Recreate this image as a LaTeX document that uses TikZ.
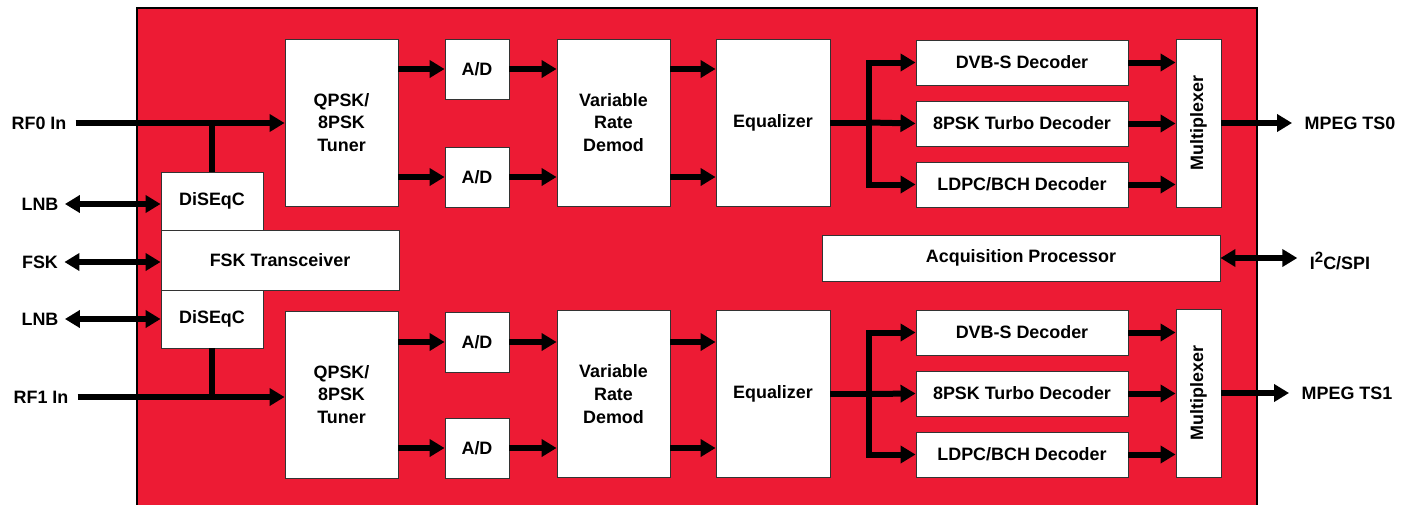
\documentclass[tikz,border=0pt]{standalone}
\usepackage{fontspec}
\setmainfont{Liberation Sans}
\usetikzlibrary{arrows.meta, positioning, calc}
\definecolor{chipred}{HTML}{ED1B34}
\definecolor{boxline}{HTML}{333333}

\begin{document}
\begin{tikzpicture}[
  x=0.02cm, y=-0.02cm,
  every node/.style={font=\fontsize{10.2}{13}\selectfont\bfseries, align=center},
  blk/.style 2 args={draw=boxline, line width=0.5pt, fill=white, inner sep=0pt, minimum width=#1*0.02cm, minimum height=#2*0.02cm},
  pin/.style={inner sep=3.5pt},
  sig/.style={line width=0.12cm, -{Triangle[length=0.3cm, width=0.34cm]}},
  bidir/.style={line width=0.12cm, {Triangle[length=0.3cm, width=0.34cm]}-{Triangle[length=0.3cm, width=0.34cm]}},
  wire/.style={line width=0.12cm},
  bus/.style={line width=0.12cm, line cap=rect}
]
\useasboundingbox (0,0) rectangle (1406,504);
\fill[chipred] (137,8) rectangle (1257,520);
\draw[line width=0.8pt] (137,520) -- (137,8) -- (1257,8) -- (1257,520);

% channel 0
\node[blk={113}{167}] (tun0) at (341.5,122.5) {QPSK/\\8PSK\\Tuner};
\node[blk={64}{60}] (ad0a) at (477,69) {A/D};
\node[blk={64}{60}] (ad0b) at (477,177) {A/D};
\node[blk={113}{167}] (vrd0) at (613.5,122.5) {Variable\\Rate\\Demod};
\node[blk={114}{167}] (eq0) at (773,122.5) {Equalizer};
\node[blk={212}{45}] (dvb0) at (1022,62.5) {DVB-S Decoder};
\node[blk={212}{45}] (tur0) at (1022,123.5) {8PSK Turbo Decoder};
\node[blk={212}{45}] (ldp0) at (1022,184.5) {LDPC/BCH Decoder};
\node[blk={45}{168}] (mux0) at (1198.5,123) {\rotatebox{90}{Multiplexer}};
\coordinate (b0) at (869,122.5);

% channel 1
\node[blk={113}{167}] (tun1) at (341.5,394.5) {QPSK/\\8PSK\\Tuner};
\node[blk={64}{60}] (ad1a) at (477,342) {A/D};
\node[blk={64}{60}] (ad1b) at (477,448) {A/D};
\node[blk={113}{167}] (vrd1) at (613.5,394) {Variable\\Rate\\Demod};
\node[blk={114}{167}] (eq1) at (773,394) {Equalizer};
\node[blk={212}{45}] (dvb1) at (1022,332.5) {DVB-S Decoder};
\node[blk={212}{45}] (tur1) at (1022,393.5) {8PSK Turbo Decoder};
\node[blk={212}{45}] (ldp1) at (1022,454.5) {LDPC/BCH Decoder};
\node[blk={45}{168}] (mux1) at (1198.5,393) {\rotatebox{90}{Multiplexer}};
\coordinate (b1) at (869,394);

% control blocks
\node[blk={102}{58}] (dis0) at (212,201) {DiSEqC};
\node[blk={102}{58}] (dis1) at (212,319) {DiSEqC};
\node[blk={238}{60}] (fsk) at (280,260) {FSK Transceiver};
\node[blk={398}{46}] (acq) at (1021,258) {Acquisition Processor};

% pins
\node[pin, inner sep=5pt] (rf0) at (39,123) {RF0 In};
\node[pin, inner sep=5pt] (rf1) at (41,397) {RF1 In};
\node[pin] (lnb0) at (40,204) {LNB};
\node[pin] (fskp) at (40,262) {FSK};
\node[pin] (lnb1) at (40,319) {LNB};
\node[pin, inner sep=7pt] (ts0) at (1350,123) {MPEG TS0};
\node[pin, inner sep=7pt] (ts1) at (1347,393) {MPEG TS1};
\node[pin, inner sep=7pt] (i2c) at (1340,261) {I\raisebox{0.75ex}{\fontsize{8.5}{9}\selectfont 2}C/SPI};

\draw[sig] (rf0.east) -- (tun0.west |- rf0);
\draw[sig] (rf1.east) -- (tun1.west |- rf1);
\draw[wire] (dis0.north) -- (dis0.north |- rf0);
\draw[wire] (dis1.south) -- (dis1.south |- rf1);
\draw[bidir] (lnb0.east) -- (lnb0 -| dis0.west);
\draw[bidir] (fskp.east) -- (fskp -| fsk.west);
\draw[bidir] (lnb1.east) -- (lnb1 -| dis1.west);

\draw[sig] (tun0.east |- ad0a) -- (ad0a.west);
\draw[sig] (tun0.east |- ad0b) -- (ad0b.west);
\draw[sig] (ad0a.east) -- (vrd0.west |- ad0a);
\draw[sig] (ad0b.east) -- (vrd0.west |- ad0b);
\draw[sig] (vrd0.east |- ad0a) -- (eq0.west |- ad0a);
\draw[sig] (vrd0.east |- ad0b) -- (eq0.west |- ad0b);
\draw[wire] (eq0.east) -- (b0);
\draw[bus] (b0 |- dvb0) -- (b0 |- ldp0);
\draw[sig] (b0 |- dvb0) -- (dvb0.west);
\draw[sig] (b0) -- (tur0.west);
\draw[sig] (b0 |- ldp0) -- (ldp0.west);
\draw[sig] (dvb0.east) -- (mux0.west |- dvb0);
\draw[sig] (tur0.east) -- (mux0.west |- tur0);
\draw[sig] (ldp0.east) -- (mux0.west |- ldp0);
\draw[sig] (mux0.east) -- (ts0.west |- mux0);

\draw[sig] (tun1.east |- ad1a) -- (ad1a.west);
\draw[sig] (tun1.east |- ad1b) -- (ad1b.west);
\draw[sig] (ad1a.east) -- (vrd1.west |- ad1a);
\draw[sig] (ad1b.east) -- (vrd1.west |- ad1b);
\draw[sig] (vrd1.east |- ad1a) -- (eq1.west |- ad1a);
\draw[sig] (vrd1.east |- ad1b) -- (eq1.west |- ad1b);
\draw[wire] (eq1.east) -- (b1);
\draw[bus] (b1 |- dvb1) -- (b1 |- ldp1);
\draw[sig] (b1 |- dvb1) -- (dvb1.west);
\draw[sig] (b1) -- (tur1.west);
\draw[sig] (b1 |- ldp1) -- (ldp1.west);
\draw[sig] (dvb1.east) -- (mux1.west |- dvb1);
\draw[sig] (tur1.east) -- (mux1.west |- tur1);
\draw[sig] (ldp1.east) -- (mux1.west |- ldp1);
\draw[sig] (mux1.east) -- (ts1.west |- mux1);

\draw[bidir] (acq.east) -- (i2c.west |- acq);
\end{tikzpicture}
\end{document}
